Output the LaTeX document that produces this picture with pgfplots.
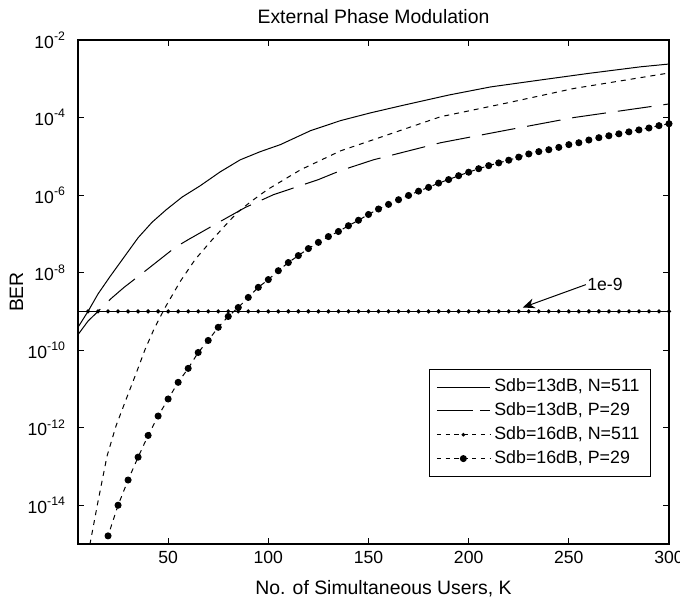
\documentclass[border=0pt]{standalone}
\usepackage{fontspec}
\setmainfont{Liberation Sans}
\usepackage{pgfplots}
\pgfplotsset{compat=1.18}
\usetikzlibrary{arrows.meta}

\begin{document}
\begin{tikzpicture}
\begin{axis}[
    scale only axis, width=295.5bp, height=252bp,
    xmin=5, xmax=300, ymin=1e-15, ymax=1e-2, ymode=log,
    xtick={50,100,150,200,250,300},
    ytick={1e-14,1e-12,1e-10,1e-8,1e-6,1e-4,1e-2},
    yticklabels={10\textsuperscript{-14},10\textsuperscript{-12},10\textsuperscript{-10},10\textsuperscript{-8},10\textsuperscript{-6},10\textsuperscript{-4},10\textsuperscript{-2}},
    yminorticks=false,
    tick align=inside, major tick length=3bp,
    axis line style={line width=0.7bp},
    every tick/.style={black, line width=0.5bp},
    /pgf/number format/assume math mode=true,
    tick label style={font=\fontsize{8.8bp}{10bp}\selectfont},
    yticklabel style={xshift=-2.5bp},
    label style={font=\fontsize{9.7bp}{11bp}\selectfont},
    title style={font=\fontsize{9.7bp}{11bp}\selectfont, at={(rel axis cs:0.5,1)}, anchor=base, yshift=2.5bp},
    title={External Phase Modulation},
    xlabel={No. of Simultaneous Users, K},
    xlabel style={at={(rel axis cs:0.5,0)}, anchor=base, yshift=-25bp, xshift=5bp},
    ylabel={BER},
    ylabel style={at={(rel axis cs:-0.093,0.5)}, anchor=base},
    legend style={at={(rel axis cs:1,0)}, anchor=south east, xshift=-9bp, yshift=33.5bp,
        draw=black, line width=0.5bp, font=\fontsize{8.9bp}{10bp}\selectfont,
        inner xsep=3.5bp, inner ysep=3bp, row sep=0bp},
    legend cell align=left,
    legend image code/.code={\draw[#1,mark repeat=2,mark phase=2] plot coordinates {(0bp,0bp) (13.25bp,0bp) (26.5bp,0bp)};},
]
\coordinate (ll) at (rel axis cs:0,0);

% Sdb=13dB, N=511
\addplot[black, line width=0.5bp, forget plot] coordinates {
(5,3.89e-10) (10,1.0e-9) (15,2.82e-9) (21,7.94e-9) (28,2.51e-8) (35,7.94e-8)
(42,2.0e-7) (49,4.17e-7) (57,8.91e-7) (66,1.74e-6) (76,3.98e-6) (86,8.13e-6)
(96,1.32e-5) (106,2.0e-5) (121,4.57e-5) (136,8.32e-5) (151,1.32e-4) (166,2.0e-4)
(190,3.80e-4) (211,6.17e-4) (236,9.33e-4) (260,1.38e-3) (286,2.04e-3) (300,2.40e-3)
};
% Sdb=13dB, P=29
\addplot[black, line width=0.5bp, dash pattern=on 17bp off 6bp, forget plot] coordinates {
(5,2.51e-10) (10,5.62e-10) (15,1.0e-9) (21.5,2.14e-9) (28,4.17e-9) (35,7.94e-9)
(40,1.26e-8) (53.5,4.47e-8) (60,7.08e-8) (75,1.95e-7) (88.5,4.79e-7) (102.5,1.02e-6)
(125,2.51e-6) (136,4.27e-6) (152.5,8.13e-6) (186,2.24e-5) (219.5,4.79e-5)
(252.5,1.0e-4) (300,2.24e-4)
};
% Sdb=16dB, N=511
\addplot[black, line width=0.5bp, dash pattern=on 2.5bp off 2.5bp, forget plot] coordinates {
(10,5.37e-16) (15,1.26e-14) (19.5,1.86e-13) (24,1.12e-12) (29,5.37e-12) (34,2.51e-11)
(38.5,1.05e-10) (43,3.55e-10) (48.5,1.26e-9) (56,5.89e-9) (63.5,2.19e-8) (72,7.08e-8)
(77.5,1.45e-7) (84.5,3.55e-7) (91,6.61e-7) (99.5,1.38e-6) (116,4.47e-6) (136,1.38e-5)
(152.5,2.69e-5) (186,1.05e-4) (219.5,2.40e-4) (252.5,5.62e-4) (300,1.41e-3)
};
% Sdb=16dB, P=29
\addplot[black, line width=0.5bp, dash pattern=on 2.5bp off 2.5bp, mark=*, mark size=1.5bp,
    mark options={solid}, forget plot] coordinates {
(15,2.5e-16) (20,1.62e-15) (25,1.0e-14) (30,4.47e-14) (35,1.74e-13) (40,6.31e-13)
(45,2.0e-12) (50,5.5e-12) (55,1.48e-11) (60,3.39e-11) (65,8.71e-11) (70,1.78e-10)
(75,3.89e-10) (80,7.41e-10) (85,1.26e-9) (90,2.29e-9) (95,4.17e-9) (100,6.61e-9)
(105,1.12e-8) (110,1.82e-8) (115,2.75e-8) (120,4.17e-8) (125,6.03e-8) (130,8.51e-8)
(135,1.15e-7) (140,1.62e-7) (145,2.24e-7) (150,3.16e-7) (155,4.37e-7) (160,5.75e-7)
(165,7.59e-7) (170,9.77e-7) (175,1.26e-6) (180,1.58e-6) (185,2.04e-6) (190,2.51e-6)
(195,3.16e-6) (200,3.89e-6) (205,4.79e-6) (210,5.75e-6) (215,6.76e-6) (220,7.94e-6)
(225,9.55e-6) (230,1.15e-5) (235,1.32e-5) (240,1.48e-5) (245,1.70e-5) (250,2.0e-5)
(255,2.24e-5) (260,2.63e-5) (265,3.02e-5) (270,3.39e-5) (275,3.80e-5) (280,4.27e-5)
(285,4.79e-5) (290,5.37e-5) (295,6.17e-5) (300,6.92e-5)
};
% BER = 1e-9 reference line
\addplot[black, line width=0.7bp, mark=*, mark size=0.65bp, mark indices={2,...,60}, forget plot] coordinates {
(5,1e-9) (10,1e-9) (15,1e-9) (20,1e-9) (25,1e-9) (30,1e-9) (35,1e-9) (40,1e-9)
(45,1e-9) (50,1e-9) (55,1e-9) (60,1e-9) (65,1e-9) (70,1e-9) (75,1e-9) (80,1e-9)
(85,1e-9) (90,1e-9) (95,1e-9) (100,1e-9) (105,1e-9) (110,1e-9) (115,1e-9) (120,1e-9)
(125,1e-9) (130,1e-9) (135,1e-9) (140,1e-9) (145,1e-9) (150,1e-9) (155,1e-9) (160,1e-9)
(165,1e-9) (170,1e-9) (175,1e-9) (180,1e-9) (185,1e-9) (190,1e-9) (195,1e-9) (200,1e-9)
(205,1e-9) (210,1e-9) (215,1e-9) (220,1e-9) (225,1e-9) (230,1e-9) (235,1e-9) (240,1e-9)
(245,1e-9) (250,1e-9) (255,1e-9) (260,1e-9) (265,1e-9) (270,1e-9) (275,1e-9) (280,1e-9)
(285,1e-9) (290,1e-9) (295,1e-9) (300,1e-9)
};

\addlegendimage{black, line width=0.5bp}
\addlegendentry{Sdb=13dB, N=511}
\addlegendimage{black, line width=0.5bp, dash pattern=on 18bp off 3.5bp}
\addlegendentry{Sdb=13dB, P=29}
\addlegendimage{black, line width=0.5bp, dash pattern=on 2.2bp off 2.2bp, mark=*, mark size=0.65bp, mark options={solid}}
\addlegendentry{Sdb=16dB, N=511}
\addlegendimage{black, line width=0.5bp, dash pattern=on 2.2bp off 2.2bp, mark=*, mark size=1.5bp, mark options={solid}}
\addlegendentry{Sdb=16dB, P=29}

\draw[black, line width=0.5bp, -{Stealth[length=6bp, width=5bp]}] (axis cs:258.5,4.9e-9) -- (axis cs:227,1.26e-9)
    node[pos=0, anchor=west, inner sep=0.5bp, font=\fontsize{8.8bp}{10bp}\selectfont] {1e-9};
\end{axis}
\pgfresetboundingbox
\path[use as bounding box] ([xshift=-39bp, yshift=-28bp]ll) rectangle ++(340bp,300bp);
\end{tikzpicture}
\end{document}
